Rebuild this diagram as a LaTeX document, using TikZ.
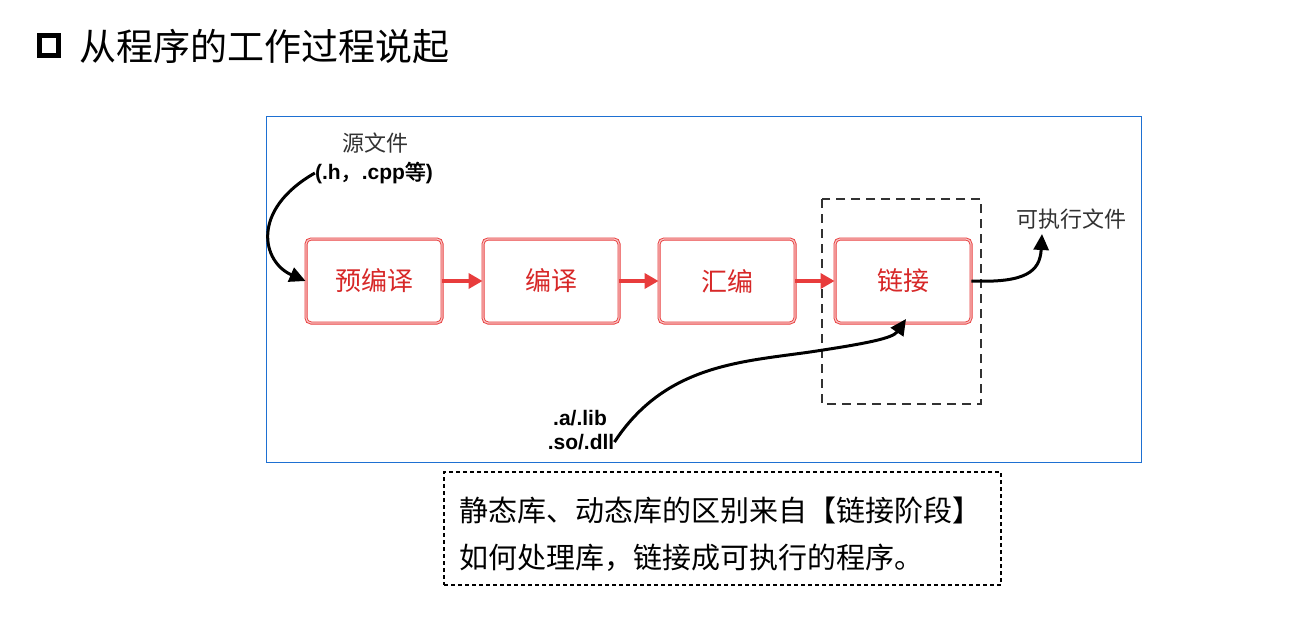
\documentclass[tikz,border=0pt]{standalone}
\usepackage{fontspec}
\newfontfamily\cjk{Noto Sans CJK SC}
\newfontfamily\cjkb[AutoFakeBold=2]{Noto Sans CJK SC}
\newfontfamily\latb{Liberation Sans}
\usetikzlibrary{arrows.meta}
\definecolor{frameblue}{RGB}{30,112,210}
\definecolor{sketchred}{RGB}{232,60,60}
\definecolor{textred}{RGB}{215,40,40}
\definecolor{darkgray}{RGB}{50,50,50}
\tikzset{
  stage/.style={draw=sketchred, double=sketchred!30, double distance=1.2pt, line width=0.9pt,
    rounded corners=5pt, minimum width=136pt, minimum height=84pt, inner sep=0pt,
    font=\cjk\fontsize{26pt}{30pt}\selectfont, text=textred},
  redarrow/.style={draw=sketchred, line width=3.5pt, -{Triangle[length=14pt,width=15pt]}},
  blackarrow/.style={draw=black, line width=3pt, -{Triangle[length=16pt,width=15pt]}},
  label/.style={font=\cjk\fontsize{22pt}{26pt}\selectfont, text=darkgray, inner sep=0pt},
  boldlabel/.style={font=\latb\bfseries\fontsize{21pt}{24pt}\selectfont, text=black, inner sep=0pt},
}
\begin{document}
\begin{tikzpicture}[x=1pt,y=-1pt]
\useasboundingbox (0,0) rectangle (1314,629);
\fill[white] (0,0) rectangle (1314,629);
% title
\draw[line width=5pt] (39.5,35.5) rectangle (58.5,55.5);
\node[anchor=west, inner sep=0pt, font=\cjk\fontsize{37pt}{40pt}\selectfont] (title) at (79,46) {从程序的工作过程说起};
% frame
\draw[frameblue, line width=1.3pt] (266.5,116.5) rectangle (1141.5,462.5);
% dashed link region
\draw[darkgray, line width=1.6pt, dash pattern=on 9pt off 6pt] (822,199) rectangle (981,404);
% stages
\node[stage] (pre) at (374,281) {预编译};
\node[stage] (comp) at (551,281) {编译};
\node[stage] (asm) at (727,281) {汇编};
\node[stage] (link) at (903,281) {链接};
\draw[redarrow] (pre.east) -- (comp.west);
\draw[redarrow] (comp.east) -- (asm.west);
\draw[redarrow] (asm.east) -- (link.west);
% source labels
\node[label] (src) at (375,143) {源文件};
\node[boldlabel] (srcext) at (374,173) {(.h{\cjkb ，}.cpp{\cjkb\bfseries 等})};
\draw[blackarrow] (srcext.west) .. controls (250,210) and (262,262) .. (pre.west);
% executable
\node[label, anchor=west] (exe) at (1016,219) {可执行文件};
\coordinate (exeend) at (1042,234);
\draw[blackarrow] (link.east) .. controls (1025,283) and (1040,272) .. (exeend);
% libraries
\node[boldlabel] (liba) at (580,418) {.a/.lib};
\node[boldlabel] (libso) at (581,442) {.so/.dll};
\coordinate (linkin) at (906,319);
\draw[blackarrow] (libso.east) .. controls (665,365) and (740,362) .. (810,352) .. controls (870,343) and (893,338) .. (linkin);
% note
\node[draw, dash pattern=on 4pt off 3pt, line width=1.2pt, minimum width=557pt, minimum height=113pt, inner sep=0pt] (note) at (722.5,528.5) {};
\node[anchor=west, inner sep=0pt, font=\cjk\fontsize{29pt}{32pt}\selectfont] (n1) at (459,510) {静态库、动态库的区别来自【链接阶段】};
\node[anchor=west, inner sep=0pt, font=\cjk\fontsize{29pt}{32pt}\selectfont] (n2) at (459,558) {如何处理库，链接成可执行的程序。};
\end{tikzpicture}
\end{document}
